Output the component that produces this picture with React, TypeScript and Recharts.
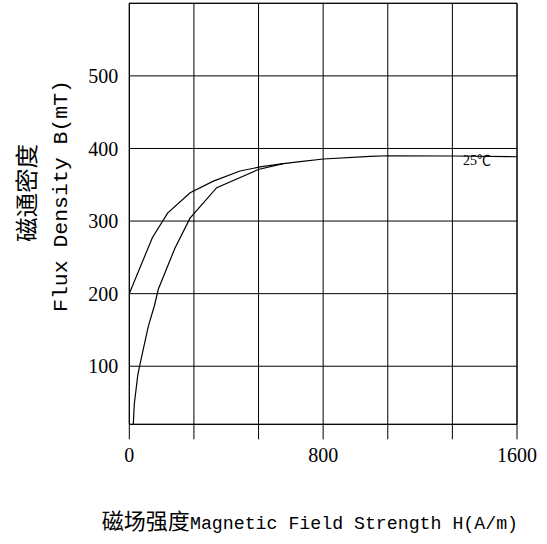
import React from 'react';
import { LineChart, Line, XAxis, YAxis, CartesianGrid, ReferenceLine, ReferenceDot } from 'recharts';

// Initial magnetization curve (H in A/m, B in mT)
const initialH = [16.5, 20.6, 34.7, 44.2, 78.4, 103.2, 119.7, 188.7, 250.6, 360.8, 532.5, 635.7, 705, 801, 994, 1069, 1335, 1600];
const initialB = [20, 48, 87, 103, 155, 183, 206, 263, 304, 346, 371, 379, 382, 385.5, 389, 390, 389.6, 388.6];

// Return branch
const returnH = [0, 95, 158, 251, 347, 457, 546, 635.7];
const returnB = [200, 277, 311, 339, 355, 369, 375, 379];

const xTicks = [0, 266.67, 533.33, 800, 1066.67, 1333.33, 1600];
const xTickLabels = [0, 800, 1600];
const yTicks = [100, 200, 300, 400, 500, 600];
const yTickLabels = [100, 200, 300, 400, 500];

const tempLabel = '25℃';
const xTitleCn = '磁场强度';
const xTitleEn = 'Magnetic Field Strength H(A/m)';
const yTitleCn = '磁通密度';
const yTitleEn = 'Flux Density  B(mT)';

const initialData = initialH.map((h, i) => ({ h, b: initialB[i] }));
const returnData = returnH.map((h, i) => ({ h, b: returnB[i] }));

const serif = '"Liberation Serif", "Noto Sans CJK SC", serif';
const mono = '"Liberation Mono", "Noto Sans CJK SC", monospace';
const cjk = '"Noto Sans CJK SC", sans-serif';

const XTitle = () => (
  <g>
    <text x={101.7} y={529} fontFamily={cjk} fontSize={22} fill="#000" textLength={88} lengthAdjust="spacingAndGlyphs">{xTitleCn}</text>
    <text x={190} y={529} fontFamily={mono} fontSize={19} fill="#000" textLength={328} lengthAdjust="spacingAndGlyphs">{xTitleEn}</text>
  </g>
);

const YTitle = () => (
  <g>
    <text x={0} y={0} transform="translate(25,193) rotate(-90)" textAnchor="middle" dominantBaseline="central" fontFamily={cjk} fontSize={23} fill="#000" textLength={98} lengthAdjust="spacingAndGlyphs">{yTitleCn}</text>
    <text x={0} y={0} transform="translate(61,196) rotate(-90)" textAnchor="middle" dominantBaseline="central" fontFamily={mono} fontSize={20} fill="#000" textLength={232} lengthAdjust="spacingAndGlyphs">{yTitleEn}</text>
  </g>
);

export default function App() {
  return (
    <div style={{ position: 'absolute', left: 0, top: 0, width: 547, height: 544, background: '#fff' }}>
      <LineChart width={547} height={544} margin={{ top: 3.3, right: 30, bottom: 59.7, left: 0 }}>
        <CartesianGrid stroke="#000" strokeWidth={1} />
        <XAxis
          type="number"
          dataKey="h"
          domain={[0, 1600]}
          ticks={xTicks}
          interval={0}
          allowDataOverflow
          height={60}
          axisLine={{ stroke: '#000' }}
          tickLine={{ stroke: '#000' }}
          tickSize={15}
          tickMargin={8}
          tick={{ fill: '#000', fontSize: 20, fontFamily: serif }}
          tickFormatter={(v: number) => (xTickLabels.includes(Math.round(v)) ? String(Math.round(v)) : '')}
          label={{ content: () => <XTitle /> }}
        />
        <YAxis
          type="number"
          dataKey="b"
          domain={[20, 600]}
          ticks={yTicks}
          interval={0}
          allowDataOverflow
          width={129.3}
          axisLine={{ stroke: '#000' }}
          tickLine={false}
          tickSize={0}
          tickMargin={11}
          tick={{ fill: '#000', fontSize: 20, fontFamily: serif }}
          tickFormatter={(v: number) => (yTickLabels.includes(v) ? String(v) : '')}
          label={{ content: () => <YTitle /> }}
        />
        <ReferenceLine y={600} stroke="#000" />
        <ReferenceLine x={1600} stroke="#000" />
        <Line data={initialData} dataKey="b" type="linear" stroke="#000" strokeWidth={1.2} dot={false} isAnimationActive={false} />
        <Line data={returnData} dataKey="b" type="linear" stroke="#000" strokeWidth={1.2} dot={false} isAnimationActive={false} />
        <ReferenceDot
          x={1435}
          y={384}
          r={0}
          fill="none"
          stroke="none"
          label={{ value: tempLabel, position: 'center', fontSize: 14, fill: '#000', fontFamily: serif }}
        />
      </LineChart>
    </div>
  );
}
